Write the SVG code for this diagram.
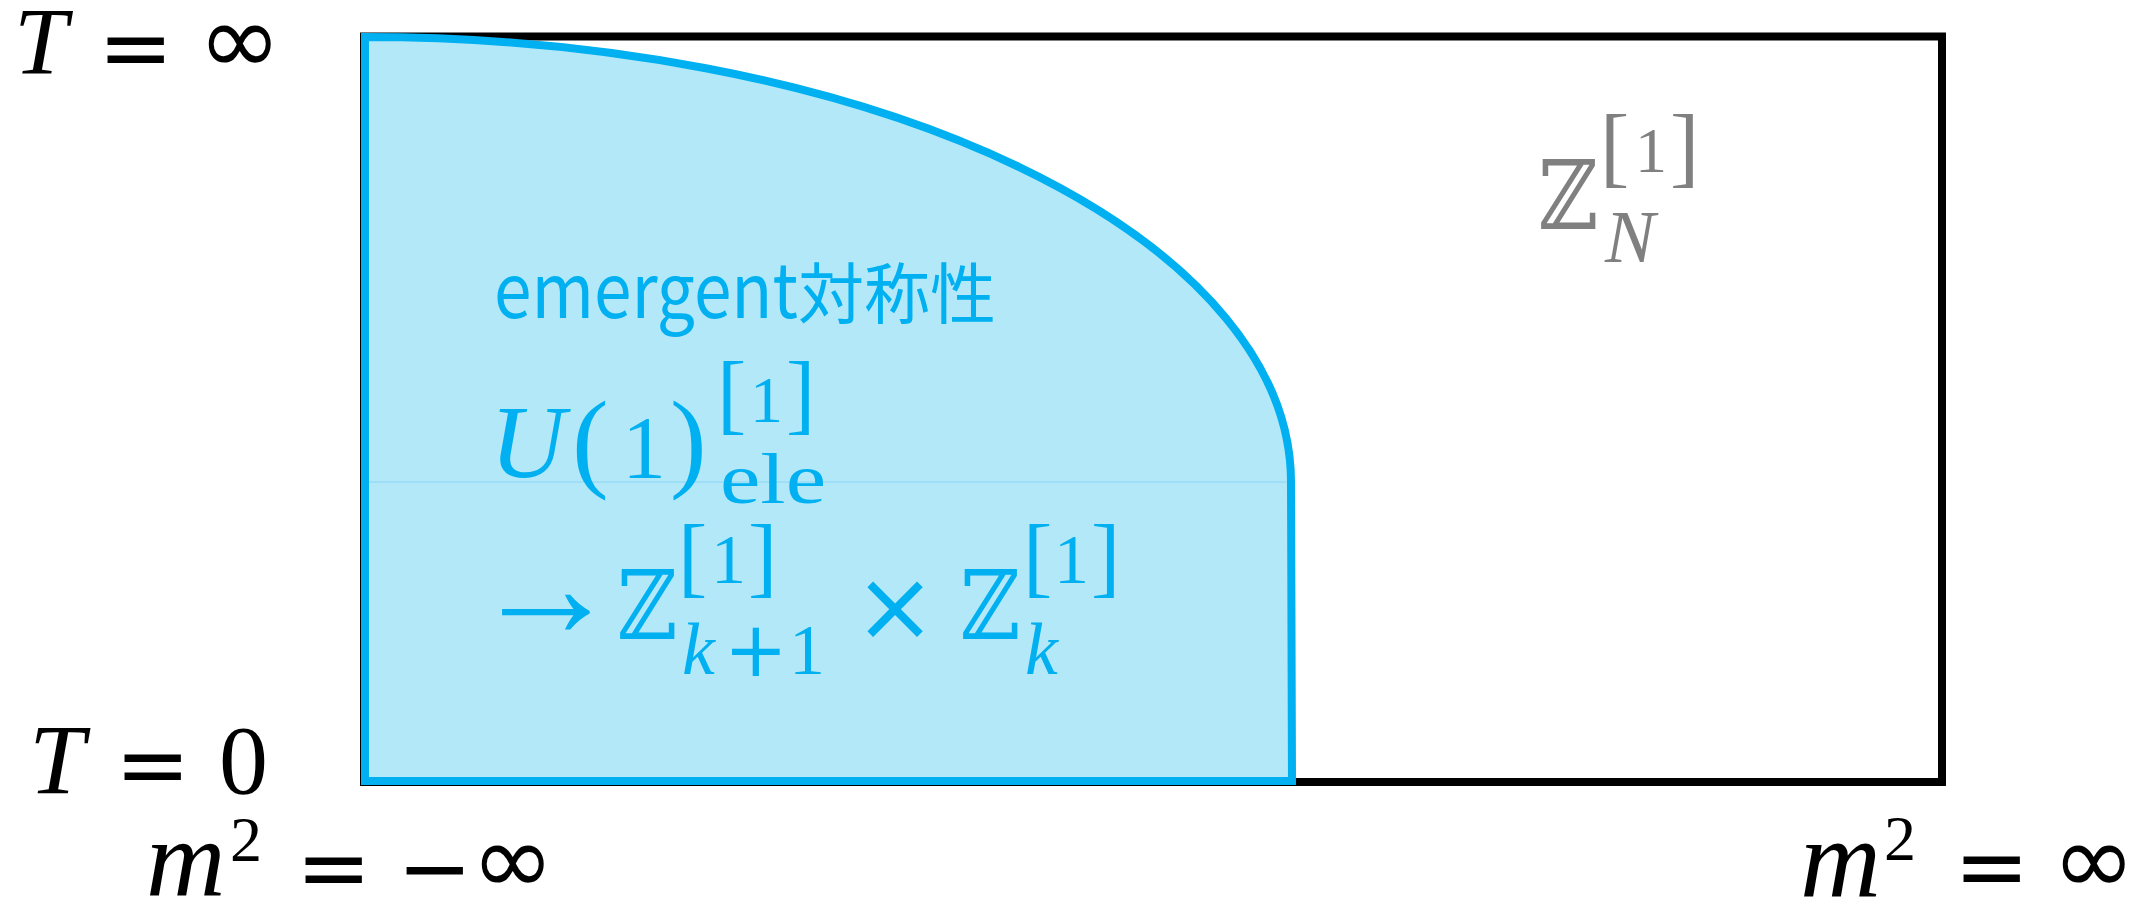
<svg xmlns="http://www.w3.org/2000/svg" width="2144" height="899" viewBox="0 0 2144 899">
<style>
.r{font-family:"Liberation Serif",serif}
.i{font-family:"Liberation Serif",serif;font-style:italic}
.s{font-family:"DejaVu Sans",sans-serif}
.z{font-family:"DejaVu Serif","DejaVu Sans",serif}
.k{fill:#000}
.b{fill:#00B0F0}
.g{fill:#808080}
</style>
<rect x="0" y="0" width="2144" height="899" fill="#fff"/>
<g id="frame">
<rect x="364" y="36.5" width="1578" height="745.5" fill="none" stroke="#000" stroke-width="8"/>
</g>
<g id="region">
<path d="M365,781 L365,37 A926,445 0 0 1 1291,482 L1292,781 Z" fill="#B3E8F9" stroke="#00B0F0" stroke-width="8"/>
<line x1="369" y1="482" x2="1287" y2="482" stroke="#9EDFF7" stroke-width="2"/>
</g>
<g id="label-T-inf" class="k">
<text class="i" x="14" y="74" font-size="96">T</text>
<text class="s" x="98" y="79" font-size="90">=</text>
<text class="s" x="198" y="74" font-size="100">∞</text>
</g>
<g id="label-T-0" class="k">
<text class="i" x="29" y="793" font-size="100">T</text>
<text class="s" x="115" y="796" font-size="90">=</text>
<text class="r" x="219" y="793" font-size="98">0</text>
</g>
<g id="label-m-neg" class="k">
<text class="i" x="146" y="896" font-size="110">m</text>
<text class="r" x="230" y="861" font-size="64">2</text>
<text class="s" x="296" y="899" font-size="90">=</text>
<text class="s" x="397" y="899" font-size="90">−</text>
<text class="s" x="471" y="894" font-size="100">∞</text>
</g>
<g id="label-m-pos" class="k">
<text class="i" x="1800" y="897" font-size="112">m</text>
<text class="r" x="1884" y="860" font-size="64">2</text>
<text class="s" x="1954" y="898" font-size="90">=</text>
<text class="s" x="2052" y="894" font-size="100">∞</text>
</g>
<g id="label-ZN" class="g">
<text class="z" x="1538" y="229" font-size="96" textLength="60" lengthAdjust="spacingAndGlyphs">ℤ</text>
<text class="r" x="1600" y="176" font-size="88">[</text>
<text class="r" x="1635" y="172" font-size="64">1</text>
<text class="r" x="1670" y="176" font-size="88">]</text>
<text class="i" x="1605" y="262" font-size="75">N</text>
</g>
<g id="label-emergent" class="b">
<text x="494" y="318" font-family="'Noto Sans CJK JP','Noto Sans',sans-serif"><tspan font-size="76" textLength="304" lengthAdjust="spacingAndGlyphs">emergent</tspan><tspan x="798" font-size="66">対称性</tspan></text>
</g>
<g id="label-U1" class="b">
<text class="i" x="490" y="477" font-size="104">U</text>
<text class="r" x="572" y="477" font-size="110">(</text>
<text class="r" x="622" y="477" font-size="88">1</text>
<text class="r" x="670" y="477" font-size="110">)</text>
<text class="r" x="717" y="423" font-size="88">[</text>
<text class="r" x="750" y="422" font-size="66">1</text>
<text class="r" x="786" y="423" font-size="88">]</text>
<text class="r" x="720" y="503" font-size="72" textLength="106" lengthAdjust="spacingAndGlyphs">ele</text>
</g>
<g id="label-Zk" class="b">
<text class="r" x="472" y="637" font-size="148">→</text>
<text class="z" x="617" y="639" font-size="96" textLength="60" lengthAdjust="spacingAndGlyphs">ℤ</text>
<text class="r" x="678" y="586" font-size="88">[</text>
<text class="r" x="711" y="583" font-size="70">1</text>
<text class="r" x="748" y="586" font-size="88">]</text>
<text class="i" x="682" y="674" font-size="74">k</text>
<text class="s" x="724" y="676" font-size="76">+</text>
<text class="r" x="789" y="674" font-size="72">1</text>
<text class="s" x="854" y="640" font-size="98">×</text>
<text class="z" x="960" y="639" font-size="96" textLength="60" lengthAdjust="spacingAndGlyphs">ℤ</text>
<text class="r" x="1023" y="586" font-size="88">[</text>
<text class="r" x="1054" y="583" font-size="70">1</text>
<text class="r" x="1091" y="586" font-size="88">]</text>
<text class="i" x="1025" y="674" font-size="74">k</text>
</g>
</svg>
